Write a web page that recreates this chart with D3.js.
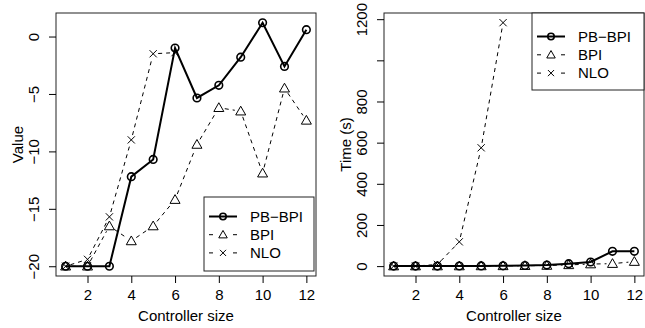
<!DOCTYPE html>
<html>
<head>
<meta charset="utf-8">
<script src="https://cdn.jsdelivr.net/npm/d3@7"></script>
<style>
  body { margin: 0; background: #fff; }
  svg { display: block; font-family: "Liberation Sans", Arial, sans-serif; }
</style>
</head>
<body>
<svg id="chart" width="645" height="328"></svg>
<script>
// controller sizes on the x axis
const sizes = [1, 2, 3, 4, 5, 6, 7, 8, 9, 10, 11, 12];

// left panel: value
const valuePB = [-20, -20, -20, -12.2, -10.7, -1.0, -5.35, -4.25, -1.8, 1.2, -2.6, 0.6];
const valueBPI = [-20, -20, -16.5, -17.8, -16.5, -14.2, -9.4, -6.2, -6.5, -11.9, -4.5, -7.3];
const valueNLO = [-20, -19.4, -15.7, -9.0, -1.5, -1.4];

// right panel: time in seconds
const timePB = [0.1, 0.2, 0.4, 0.6, 1, 1.5, 3, 5, 12, 20, 72, 72];
const timeBPI = [0.1, 0.2, 0.3, 0.5, 0.8, 1.2, 2, 3, 6, 10, 12, 22];
const timeNLO = [0.2, 0.5, 8, 118, 575, 1183];

const xTicks = [2, 4, 6, 8, 10, 12];
const valueTicks = [-20, -15, -10, -5, 0];
const timeTicks = [0, 200, 400, 600, 800, 1000, 1200];
const timeTickLabels = ['0', '200', '400', '600', '800', '', '1200'];
const seriesNames = ['PB\u2212BPI', 'BPI', 'NLO'];

const svg = d3.select('#chart');
const fontSize = 15;

// marker shapes (R pch 1, 2, 4)
function marker(g, type, x, y, s) {
  s = s || 1;
  if (type === 'circle') {
    g.append('circle').attr('cx', x).attr('cy', y).attr('r', 3.8 * s)
      .attr('fill', 'none').attr('stroke', '#000').attr('stroke-width', 1.6);
  } else if (type === 'tri') {
    const h = 5 * s;
    g.append('path')
      .attr('d', `M${x},${y - h}L${x + h},${y + h * 0.75}L${x - h},${y + h * 0.75}Z`)
      .attr('fill', 'none').attr('stroke', '#000').attr('stroke-width', 1);
  } else {
    const h = 3.6 * s;
    g.append('path')
      .attr('d', `M${x - h},${y - h}L${x + h},${y + h}M${x - h},${y + h}L${x + h},${y - h}`)
      .attr('stroke', '#000').attr('stroke-width', 1);
  }
}

// lines with gaps around points (R type = "b")
function gappedLine(g, pts, gap) {
  for (let i = 0; i < pts.length - 1; i++) {
    const [x0, y0] = pts[i], [x1, y1] = pts[i + 1];
    const len = Math.hypot(x1 - x0, y1 - y0);
    if (len <= 2 * gap) continue;
    const ux = (x1 - x0) / len, uy = (y1 - y0) / len;
    g.append('line')
      .attr('x1', x0 + ux * gap).attr('y1', y0 + uy * gap)
      .attr('x2', x1 - ux * gap).attr('y2', y1 - uy * gap)
      .attr('stroke', '#000').attr('stroke-width', 1)
      .attr('stroke-dasharray', '4,4');
  }
}

function panel(opts) {
  const g = svg.append('g');
  const x = d3.scaleLinear().domain([0.56, 12.44]).range([opts.left, opts.right]);
  const y = d3.scaleLinear().domain(opts.yDomain).range([opts.bottom, opts.top]);

  // box
  g.append('rect')
    .attr('x', opts.left).attr('y', opts.top)
    .attr('width', opts.right - opts.left).attr('height', opts.bottom - opts.top)
    .attr('fill', 'none').attr('stroke', '#222').attr('stroke-width', 1);

  // x axis
  const xa = g.append('g').attr('transform', `translate(0,${opts.bottom})`)
    .call(d3.axisBottom(x).tickValues(xTicks).tickSize(7).tickPadding(6).tickFormat(d3.format('d')));
  xa.select('.domain').remove();
  xa.selectAll('text').attr('font-size', fontSize).attr('font-family', null).attr('fill', '#000');

  // y axis with rotated labels
  const ya = g.append('g').attr('transform', `translate(${opts.left},0)`)
    .call(d3.axisLeft(y).tickValues(opts.yTicks).tickSize(7)
      .tickFormat((d, i) => opts.yLabels[i]));
  ya.select('.domain').remove();
  ya.selectAll('text')
    .attr('font-size', fontSize).attr('font-family', null).attr('fill', '#000')
    .attr('x', 0).attr('dy', null)
    .attr('text-anchor', 'middle')
    .attr('transform', 'translate(-17,0) rotate(-90)');

  // axis titles
  g.append('text')
    .attr('x', (opts.left + opts.right) / 2).attr('y', 321)
    .attr('text-anchor', 'middle').attr('font-size', fontSize)
    .text('Controller size');
  g.append('text')
    .attr('transform', `translate(${opts.left - 33},${(opts.top + opts.bottom) / 2}) rotate(-90)`)
    .attr('text-anchor', 'middle').attr('font-size', fontSize)
    .text(opts.yTitle);

  const pts = vals => vals.map((v, i) => [x(sizes[i]), y(v)]);
  const pb = pts(opts.pb), bpi = pts(opts.bpi), nlo = pts(opts.nlo);

  gappedLine(g, bpi, 6);
  bpi.forEach(p => marker(g, 'tri', p[0], p[1]));
  gappedLine(g, nlo, 5);
  nlo.forEach(p => marker(g, 'cross', p[0], p[1]));

  g.append('path').datum(pb)
    .attr('d', d3.line())
    .attr('fill', 'none').attr('stroke', '#000').attr('stroke-width', 2);
  pb.forEach(p => marker(g, 'circle', p[0], p[1]));

  // legend
  const L = opts.legend;
  g.append('rect').attr('x', L.x).attr('y', L.y).attr('width', L.w).attr('height', L.h)
    .attr('fill', '#fff').attr('stroke', '#222').attr('stroke-width', 1);
  const types = ['circle', 'tri', 'cross'];
  seriesNames.forEach((name, i) => {
    const ry = L.y + L.first + i * L.step;
    const lx0 = L.x + 5, lx1 = L.x + 33, mx = L.x + 19;
    if (i === 0) {
      g.append('line').attr('x1', lx0).attr('x2', lx1).attr('y1', ry).attr('y2', ry)
        .attr('stroke', '#000').attr('stroke-width', 2);
    } else {
      g.append('line').attr('x1', lx0).attr('x2', lx0 + 4).attr('y1', ry).attr('y2', ry)
        .attr('stroke', '#000').attr('stroke-width', 1);
      g.append('line').attr('x1', lx1 - 4).attr('x2', lx1).attr('y1', ry).attr('y2', ry)
        .attr('stroke', '#000').attr('stroke-width', 1);
    }
    marker(g, types[i], mx, ry, 0.85);
    g.append('text').attr('x', L.x + 46).attr('y', ry).attr('dy', '0.35em')
      .attr('font-size', fontSize).text(name);
  });
}

panel({
  left: 56, right: 316, top: 13, bottom: 276,
  yDomain: [-20.85, 2.05], yTicks: valueTicks, yLabels: valueTicks.map(String).map(s => s.replace('-', '\u2212')),
  yTitle: 'Value', pb: valuePB, bpi: valueBPI, nlo: valueNLO,
  legend: { x: 204, y: 197, w: 110, h: 74, first: 19.5, step: 18.2 }
});

panel({
  left: 384, right: 644, top: 13, bottom: 276,
  yDomain: [-48, 1230], yTicks: timeTicks, yLabels: timeTickLabels,
  yTitle: 'Time (s)', pb: timePB, bpi: timeBPI, nlo: timeNLO,
  legend: { x: 532, y: 13, w: 112, h: 77, first: 23.5, step: 18.3 }
});
</script>
</body>
</html>
